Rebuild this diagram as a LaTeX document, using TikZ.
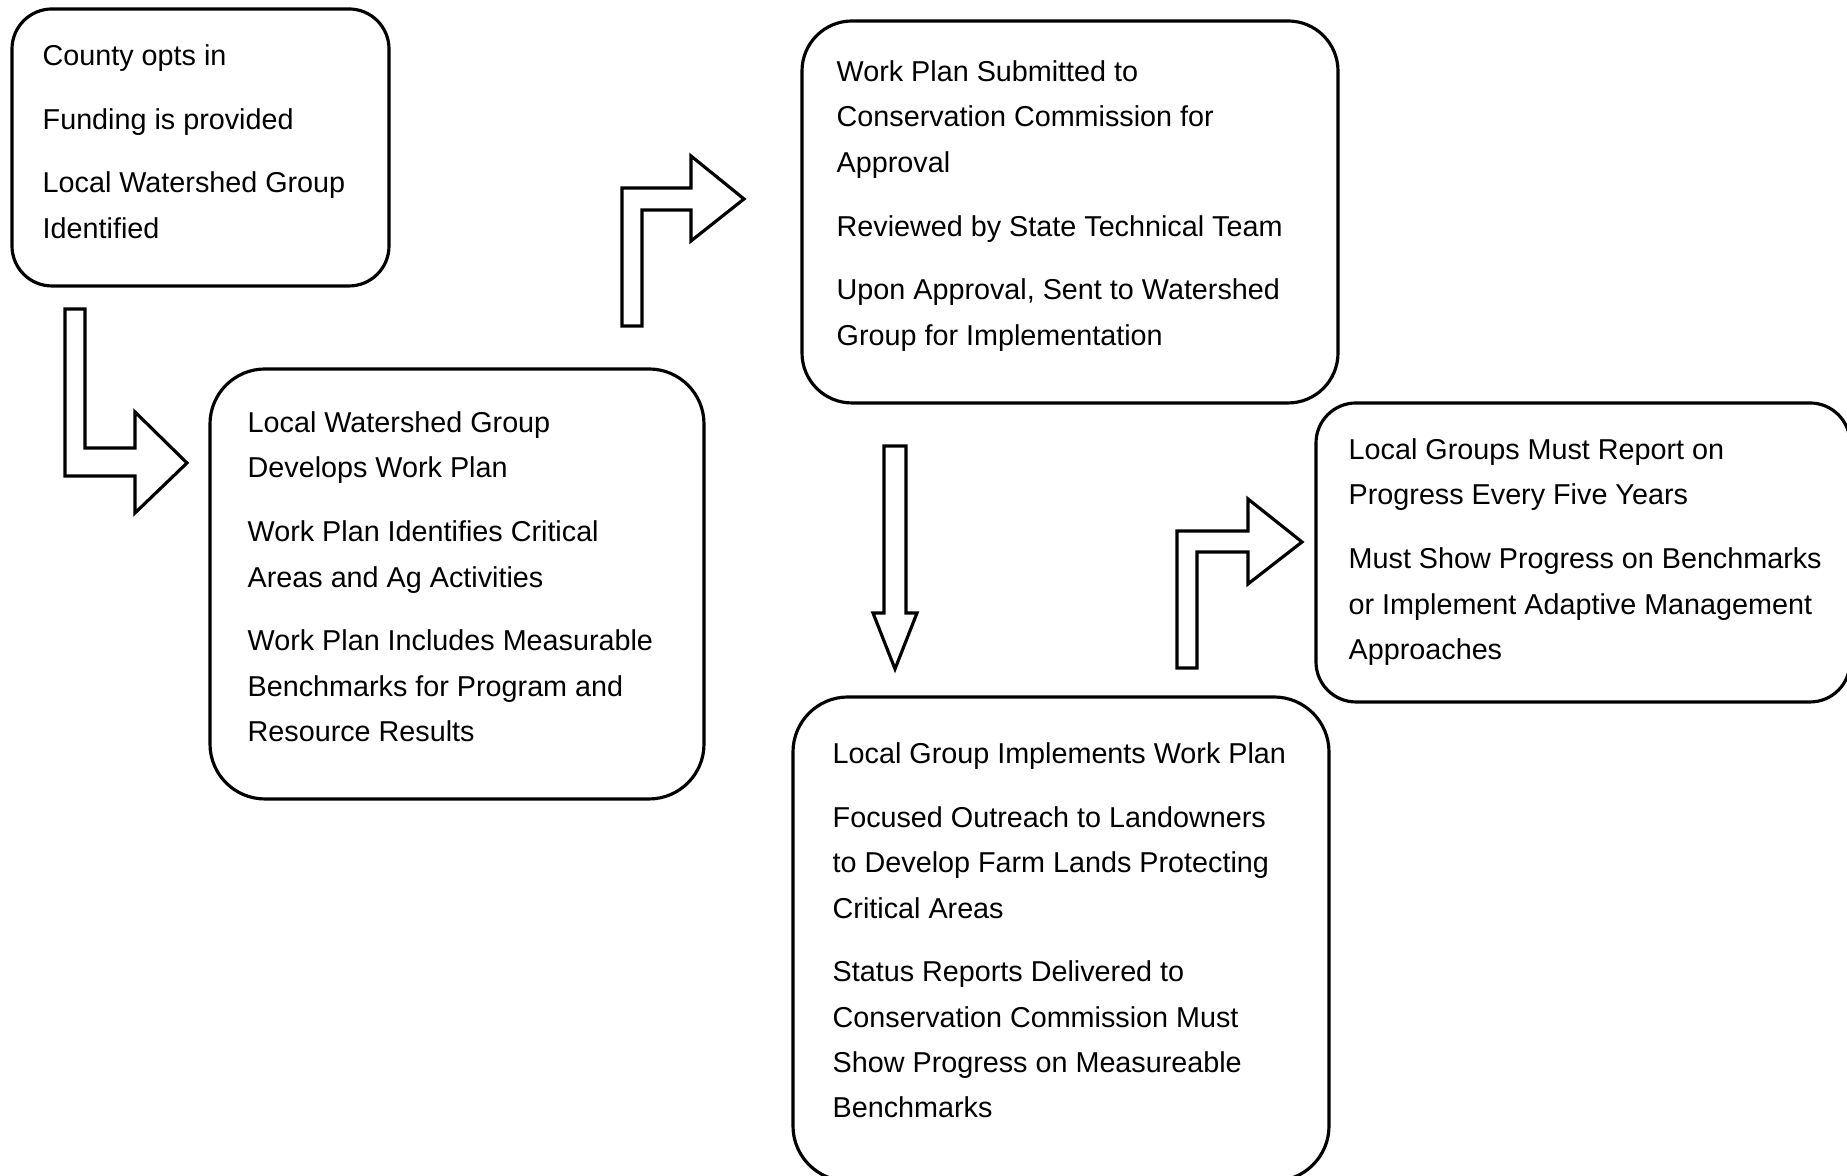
\documentclass[tikz,border=0pt]{standalone}
\usepackage{fontspec}
\setmainfont{Liberation Sans}
\begin{document}
\begin{tikzpicture}[
	box/.style={rectangle,draw,line width=0.9pt,inner sep=0pt,rounded corners=#1},
	box/.default=0.45cm,
	txt/.style={anchor=north west,align=left,inner sep=0pt,font=\fontsize{8.18}{12.92}\selectfont},
	barrow/.style={line width=0.9pt,line join=miter,fill=white}]
	\useasboundingbox (0,0) rectangle (18.47,11.76);

	% rounded boxes
	\node (B1) [box=0.4cm,minimum width=3.77cm,minimum height=2.77cm]  at (2.005,10.285){};
	\node (B2) [box=0.55cm,minimum width=4.94cm,minimum height=4.30cm] at (4.57,5.92){};
	\node (B3) [box=0.5cm,minimum width=5.36cm,minimum height=3.82cm]  at (10.70,9.64){};
	\node (B4) [box=0.55cm,minimum width=5.36cm,minimum height=4.84cm] at (10.61,2.37){};
	\node (B5) [box=0.4cm,minimum width=5.34cm,minimum height=2.99cm]  at (15.83,6.235){};

	% texts
	\node (T1) [txt] at (0.42,11.32) {County opts in\\[5.2pt]Funding is provided\\[5.2pt]Local Watershed Group\\Identified};
	\node (T2) [txt] at (2.47,7.65) {Local Watershed Group\\Develops Work Plan\\[5.2pt]Work Plan Identifies Critical\\Areas and Ag Activities\\[5.2pt]Work Plan Includes Measurable\\Benchmarks for Program and\\Resource Results};
	\node (T3) [txt] at (8.36,11.16) {Work Plan Submitted to\\Conservation Commission for\\Approval\\[5.2pt]Reviewed by State Technical Team\\[5.2pt]Upon Approval, Sent to Watershed\\Group for Implementation};
	\node (T4) [txt] at (8.32,4.34) {Local Group Implements Work Plan\\[5.2pt]Focused Outreach to Landowners\\to Develop Farm Lands Protecting\\Critical Areas\\[5.2pt]Status Reports Delivered to\\Conservation Commission Must\\Show Progress on Measureable\\Benchmarks};
	\node (T5) [txt] at (13.48,7.38) {Local Groups Must Report on\\Progress Every Five Years\\[5.2pt]Must Show Progress on Benchmarks\\or Implement Adaptive Management\\Approaches};

	% block arrows
	\draw [barrow] (0.65,8.67)--(0.85,8.67)--(0.85,7.28)--(1.35,7.28)--(1.35,7.64)--(1.87,7.13)--(1.35,6.63)--(1.35,7.00)--(0.65,7.00)--cycle;
	\draw [barrow] (6.22,8.50)--(6.42,8.50)--(6.42,9.66)--(6.91,9.66)--(6.91,9.35)--(7.44,9.77)--(6.91,10.20)--(6.91,9.88)--(6.22,9.88)--cycle;
	\draw [barrow] (8.84,7.30)--(9.06,7.30)--(9.06,5.63)--(9.17,5.63)--(8.95,5.07)--(8.73,5.63)--(8.84,5.63)--cycle;
	\draw [barrow] (11.77,5.08)--(11.97,5.08)--(11.97,6.24)--(12.48,6.24)--(12.48,5.92)--(13.02,6.34)--(12.48,6.77)--(12.48,6.45)--(11.77,6.45)--cycle;
\end{tikzpicture}
\end{document}
